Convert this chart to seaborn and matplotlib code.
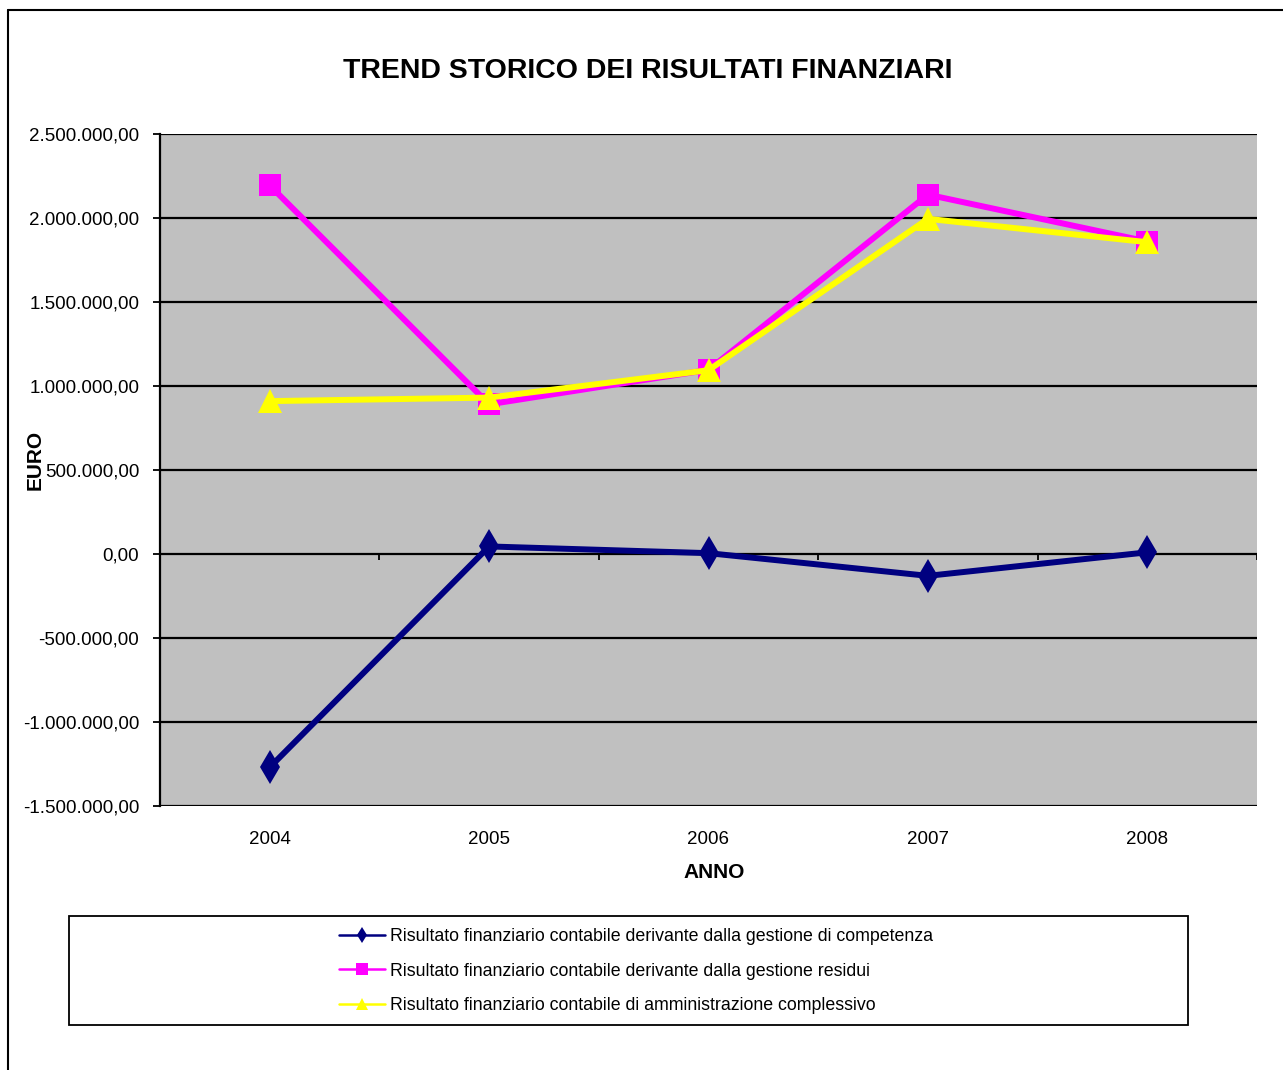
import numpy as np
import pandas as pd
import matplotlib
matplotlib.use("Agg")
import matplotlib.pyplot as plt
import matplotlib.ticker as mticker
from matplotlib.lines import Line2D
from matplotlib.patches import Rectangle
import seaborn as sns

# ==========================================
# DATA
# ==========================================
anni = ['2004', '2005', '2006', '2007', '2008']
competenza = [-1270000, 45000, 5000, -130000, 10000]
residui = [2194000, 891000, 1096000, 2139000, 1860000]
complessivo = [910000, 931000, 1094000, 1995000, 1856000]

labels = [
    'Risultato finanziario contabile derivante dalla gestione di competenza',
    'Risultato finanziario contabile derivante dalla gestione residui',
    'Risultato finanziario contabile di amministrazione complessivo',
]
colori = ['#000080', '#FF00FF', '#FFFF00']
marker = ['d', 's', '^']
msize = [17, 16, 17]

y_ticks = [-1500000, -1000000, -500000, 0, 500000, 1000000, 1500000, 2000000, 2500000]

df = pd.DataFrame({
    'x': np.arange(len(anni)),
    'competenza': competenza,
    'residui': residui,
    'complessivo': complessivo,
})

# ==========================================
# STYLE
# ==========================================
sns.set_theme(style="white")
plt.rcParams['font.family'] = ['Liberation Sans', 'DejaVu Sans']
plt.rcParams['text.color'] = 'black'
plt.rcParams['xtick.color'] = 'black'
plt.rcParams['ytick.color'] = 'black'

W, H = 1283, 1070
fig = plt.figure(figsize=(W / 100, H / 100), dpi=100)
ax = fig.add_axes([160 / W, 1 - 806 / H, (1257 - 160) / W, (806 - 134) / H])
ax.set_facecolor('#C0C0C0')

# grid lines behind the series
for t in y_ticks:
    ax.axhline(t, color='black', lw=1.6, zorder=1)

# x "axis" sits at zero with tick marks between categories
ax.vlines(np.arange(len(anni)) + 0.5, -36000, 0, color='black', lw=1.3, zorder=1)

cols = ['competenza', 'residui', 'complessivo']
for i, col in enumerate(cols):
    sns.lineplot(data=df, x='x', y=col, ax=ax, color=colori[i], lw=4.3,
                 marker=marker[i], markersize=msize[i], markeredgewidth=0,
                 label=labels[i], zorder=3 + i)

ax.set_xlim(-0.5, len(anni) - 0.5)
ax.set_ylim(-1500000, 2500000)
ax.set_xticks(np.arange(len(anni)))
ax.set_xticklabels(anni)
ax.set_yticks(y_ticks)

def euro_fmt(v, pos):
    s = f"{v:,.2f}"
    return s.replace(',', 'X').replace('.', ',').replace('X', '.')

ax.yaxis.set_major_formatter(mticker.FuncFormatter(euro_fmt))
ax.tick_params(axis='x', length=0, pad=18, labelsize=13.5, colors='black')
ax.tick_params(axis='y', left=True, length=5, width=1.3, pad=10, labelsize=13.5,
               colors='black', direction='out')
ax.set_xlabel('')
ax.set_ylabel('')

for s in ['top', 'right', 'bottom']:
    ax.spines[s].set_visible(False)
ax.spines['left'].set_color('black')
ax.spines['left'].set_linewidth(1.6)

if ax.get_legend() is not None:
    ax.get_legend().remove()

# ==========================================
# TEXTS
# ==========================================
fig.text(648 / W, 1 - 71 / H, 'TREND STORICO DEI RISULTATI FINANZIARI',
         ha='center', va='center', fontsize=20.5, fontweight='bold')
fig.text(714 / W, 1 - 873 / H, 'ANNO', ha='center', va='center',
         fontsize=15, fontweight='bold')
fig.text(35 / W, 1 - 460 / H, 'EURO', ha='center', va='center', rotation=90,
         fontsize=15, fontweight='bold')

# ==========================================
# LEGEND (boxed, below the plot)
# ==========================================
handles, lbls = ax.get_legend_handles_labels()
leg = fig.legend(handles, lbls, loc='center', bbox_to_anchor=(636 / W, 1 - 971 / H),
                 frameon=False, fontsize=12.8, markerscale=0.5, handlelength=2.6,
                 handletextpad=0.25, labelspacing=1.0)
for ln in leg.get_lines():
    ln.set_linewidth(1.8)
fig.add_artist(Rectangle((69 / W, 1 - 1025 / H), (1188 - 69) / W, (1025 - 916) / H,
                         transform=fig.transFigure, fill=False, ec='black', lw=1.3))

# outer frame (left and top edges)
fig.add_artist(Line2D([8 / W, 8 / W], [0, 1 - 10 / H], transform=fig.transFigure,
                      color='black', lw=1.5))
fig.add_artist(Line2D([8 / W, 1], [1 - 10 / H, 1 - 10 / H], transform=fig.transFigure,
                      color='black', lw=1.5))

fig.savefig('out.png', dpi=100, facecolor='white')
